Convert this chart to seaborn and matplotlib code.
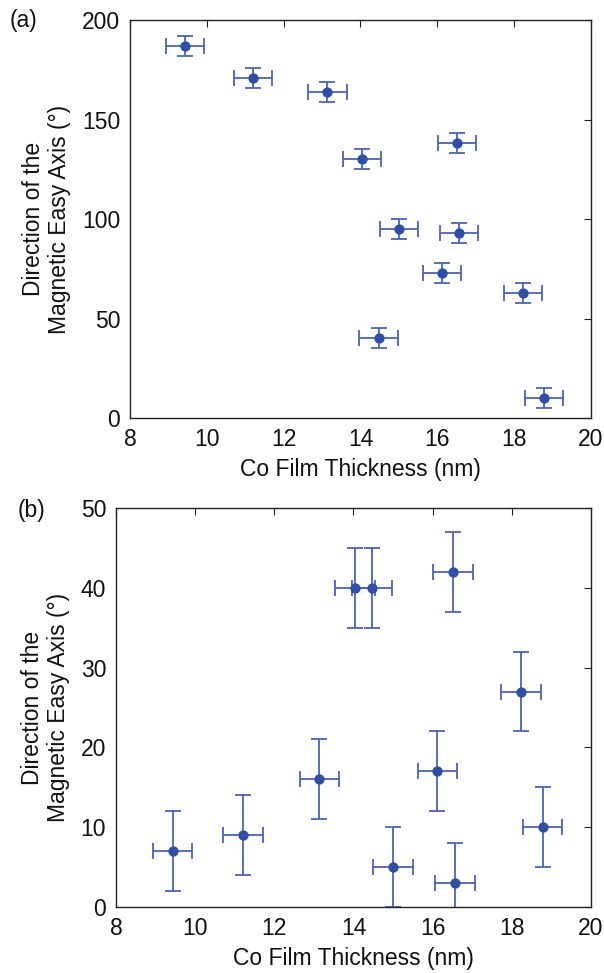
import matplotlib
matplotlib.use("Agg")
import matplotlib.pyplot as plt
import seaborn as sns
import pandas as pd

sns.set_theme(style="white")
plt.rcParams['font.family'] = ['Liberation Sans', 'DejaVu Sans']

# Data
thickness = [9.43, 11.21, 13.14, 14.04, 16.52, 15.0, 16.56, 16.12, 18.23, 14.47, 18.78]
angle_a = [187, 171, 164, 130, 138, 95, 93, 73, 63, 40, 10]
angle_b = [7, 9, 16, 40, 42, 5, 3, 17, 27, 40, 10]
x_err = 0.5
y_err = 5

xticks = [8, 10, 12, 14, 16, 18, 20]
yticks_a = [0, 50, 100, 150, 200]
yticks_b = [0, 10, 20, 30, 40, 50]

marker_color = "#2f4ea6"
line_color = "#4a62bc"

df = pd.DataFrame({"thickness": thickness, "a": angle_a, "b": angle_b})

fig = plt.figure(figsize=(6.04, 9.73), dpi=100)
ax_a = fig.add_axes([0.2152, 0.5704, 0.7632, 0.409])
ax_b = fig.add_axes([0.192, 0.0678, 0.7864, 0.4101])

ylabel = "Direction of the\nMagnetic Easy Axis (°)"
fs = 16.5

for ax, col, yt, ymax in [(ax_a, "a", yticks_a, 200),
                          (ax_b, "b", yticks_b, 50)]:
    ax.errorbar(df["thickness"], df[col], xerr=x_err, yerr=y_err, fmt='none',
                ecolor=line_color, elinewidth=1.3, capsize=5.5, capthick=1.3,
                zorder=2)
    sns.scatterplot(data=df, x="thickness", y=col, ax=ax, color=marker_color,
                    s=55, edgecolor=marker_color, linewidth=0, zorder=3,
                    legend=False)
    ax.set_xlim(8, 20)
    ax.set_ylim(0, ymax)
    ax.set_xticks(xticks)
    ax.set_yticks(yt)
    ax.tick_params(direction='in', top=True, right=True, length=5, width=0.8,
                   labelsize=fs, colors='#222222', pad=7)
    ax.tick_params(axis='x', labelcolor='#111111')
    ax.tick_params(axis='y', labelcolor='#111111')
    for sp in ax.spines.values():
        sp.set_color('#222222')
        sp.set_linewidth(1.0)
    ax.set_xlabel("Co Film Thickness (nm)", fontsize=fs, color='#111111', labelpad=5)
    ax.set_ylabel(ylabel, fontsize=fs, color='#111111', labelpad=8,
                  linespacing=1.15)

fig.text(10 / 604, 1 - 21 / 973, "(a)", fontsize=fs, ha='left', va='center', color='#111111')
fig.text(18 / 604, 1 - 511 / 973, "(b)", fontsize=fs, ha='left', va='center', color='#111111')

fig.savefig("out.png", dpi=100)
